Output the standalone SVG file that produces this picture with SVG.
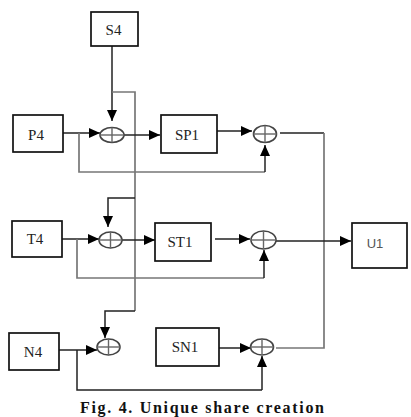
<svg xmlns="http://www.w3.org/2000/svg" width="411" height="417" viewBox="0 0 411 417">
<style>
.box{fill:#fff;stroke:#111;stroke-width:1.7}
.lbl{font-family:"Liberation Serif","Times New Roman",serif;font-size:15px;fill:#222;text-anchor:middle}
.lbls{font-family:"Liberation Sans",Arial,sans-serif;font-size:13px;fill:#555;text-anchor:middle}
.ln{fill:none;stroke:#222;stroke-width:1.5}
.lg{fill:none;stroke:#777;stroke-width:1.7}
.ar{marker-end:url(#ah)}
.xe{fill:#fff;stroke:#444;stroke-width:1.6}
.xc{stroke:#666;stroke-width:1.4}
.cap{font-family:"Liberation Serif","Times New Roman",serif;font-size:16px;font-weight:bold;fill:#111}
</style>
<defs>
<marker id="ah" markerUnits="userSpaceOnUse" markerWidth="11" markerHeight="10" refX="11" refY="5" orient="auto" viewBox="0 0 11 10">
<path d="M0,0 L11,5 L0,10 z" fill="#000"/>
</marker>
</defs>
<g id="connectors">
<path class="ln ar" d="M112,46 V121"/>
<path class="lg" d="M112,92 H135 V311"/>
<path class="ln ar" d="M135,311 H105 V338"/>
<path class="ln ar" d="M135,198 H108 V227"/>
<path class="ln ar" d="M63,133 H100"/>
<path class="lg" d="M79,133 V172 H265"/>
<path class="ln ar" d="M265,172 V145"/>
<path class="ln ar" d="M124,135 H160"/>
<path class="ln ar" d="M217,131 H252"/>
<path class="ln" d="M280,133 H324"/>
<path class="lg" d="M324,133 V348 H276"/>
<path class="ln ar" d="M62,239 H99"/>
<path class="lg" d="M77,239 V278 H264"/>
<path class="ln ar" d="M264,278 V250"/>
<path class="ln ar" d="M122,240 H155"/>
<path class="ln ar" d="M215,239 H250"/>
<path class="ln ar" d="M276,241 H351"/>
<path class="ln ar" d="M59,350 H97"/>
<path class="ln" d="M77,350 V390 H262"/>
<path class="ln ar" d="M262,390 V356"/>
<path class="ln ar" d="M219,348 H251"/>
</g>
<g id="S4"><rect class="box" x="91" y="12" width="47" height="34"/><text class="lbl" x="113.5" y="35">S4</text></g>
<g id="P4"><rect class="box" x="13" y="115" width="50" height="37"/><text class="lbl" x="36" y="140">P4</text></g>
<g id="SP1"><rect class="box" x="161" y="115" width="56" height="38"/><text class="lbl" x="187" y="140">SP1</text></g>
<g id="T4"><rect class="box" x="12" y="221" width="50" height="36"/><text class="lbl" x="35" y="244">T4</text></g>
<g id="ST1"><rect class="box" x="155" y="223" width="56" height="38"/><text class="lbl" x="180" y="247">ST1</text></g>
<g id="N4"><rect class="box" x="9" y="333" width="50" height="37"/><text class="lbl" x="33" y="357">N4</text></g>
<g id="SN1"><rect class="box" x="156" y="328" width="63" height="38"/><text class="lbl" x="185" y="352">SN1</text></g>
<g id="U1"><rect class="box" x="352" y="223" width="55" height="45"/><text class="lbls" x="375" y="248">U1</text></g>
<g id="xor1"><ellipse class="xe" cx="112" cy="135" rx="12" ry="7.5"/><line class="xc" x1="100" y1="135" x2="124" y2="135"/><line class="xc" x1="112" y1="127.5" x2="112" y2="142.5"/></g>
<g id="xor2"><ellipse class="xe" cx="265" cy="134" rx="11.5" ry="8.5"/><line class="xc" x1="253.5" y1="134" x2="276.5" y2="134"/><line class="xc" x1="265" y1="125.5" x2="265" y2="142.5"/></g>
<g id="xor3"><ellipse class="xe" cx="110.5" cy="240" rx="11.5" ry="8"/><line class="xc" x1="99" y1="240" x2="122" y2="240"/><line class="xc" x1="110.5" y1="232" x2="110.5" y2="248"/></g>
<g id="xor4"><ellipse class="xe" cx="263.5" cy="240" rx="12.5" ry="9"/><line class="xc" x1="251" y1="240" x2="276" y2="240"/><line class="xc" x1="263.5" y1="231" x2="263.5" y2="249"/></g>
<g id="xor5"><ellipse class="xe" cx="108.5" cy="347" rx="11.5" ry="8"/><line class="xc" x1="97" y1="347" x2="120" y2="347"/><line class="xc" x1="108.5" y1="339" x2="108.5" y2="355"/></g>
<g id="xor6"><ellipse class="xe" cx="262" cy="347" rx="11.5" ry="8"/><line class="xc" x1="250.5" y1="347" x2="273.5" y2="347"/><line class="xc" x1="262" y1="339" x2="262" y2="355"/></g>
<text class="cap" x="80" y="413" textLength="244" lengthAdjust="spacing">Fig. 4. Unique share creation</text>
</svg>
